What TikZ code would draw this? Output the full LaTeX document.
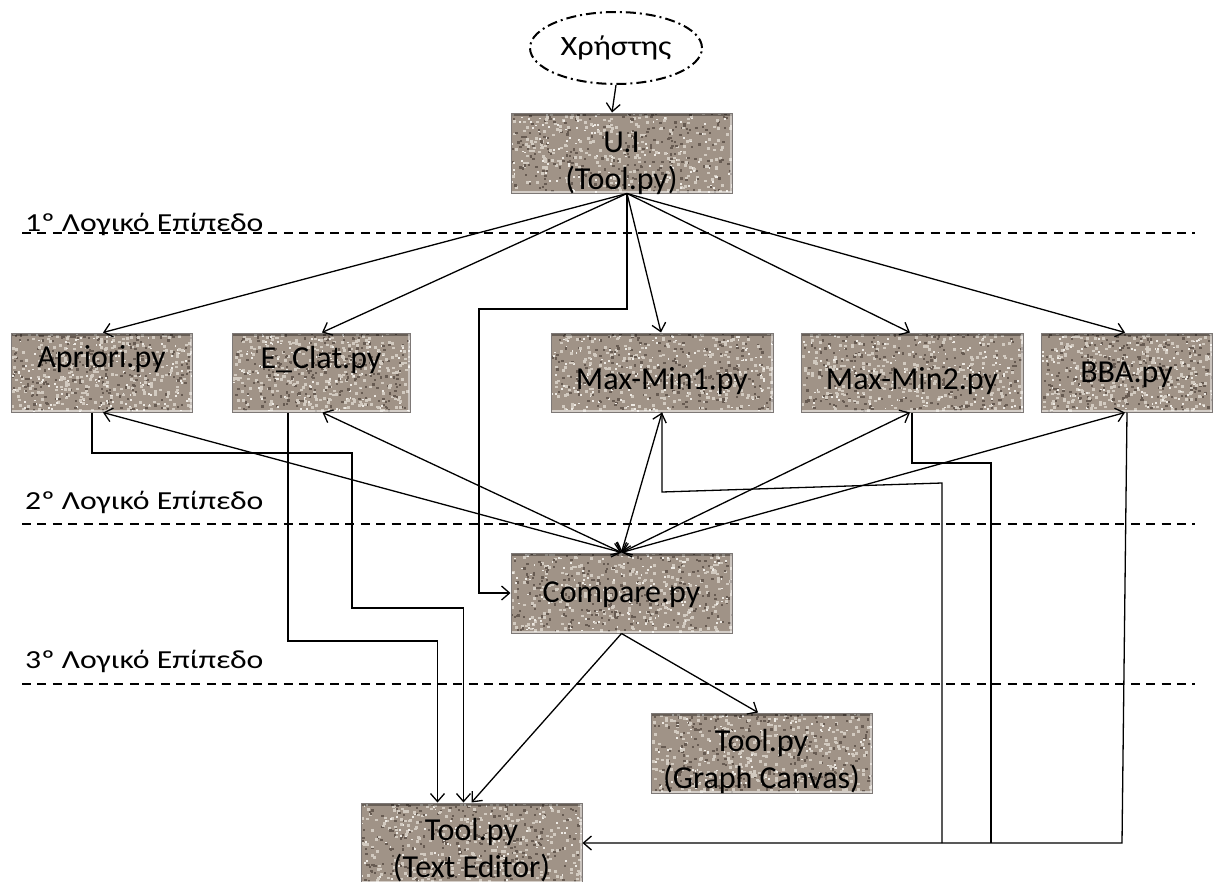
\documentclass[tikz,border=0pt]{standalone}
\usepackage{graphicx}
\usepackage{fontspec}
\setmainfont{Carlito}
\usetikzlibrary{arrows.meta,shapes.geometric,calc}
\definecolor{grBase}{RGB}{160,147,135}
\definecolor{grLight}{RGB}{210,202,192}
\definecolor{grDark}{RGB}{103,91,82}
\definecolor{grWhite}{RGB}{238,234,228}
\definecolor{grEdge}{RGB}{125,120,118}
\pgfmathsetseed{7}
\tikzset{
  granite/.style={fill=grBase, path picture={
    \pgfpointanchor{path picture bounding box}{south west}\pgfgetlastxy{\gxa}{\gya}
    \pgfpointanchor{path picture bounding box}{north east}\pgfgetlastxy{\gxb}{\gyb}
    \foreach \k in {1,...,640}{
      \pgfmathsetmacro\gx{\gxa+rnd*((\gxb)-(\gxa))}
      \pgfmathsetmacro\gy{\gya+rnd*((\gyb)-(\gya))}
      \pgfmathsetmacro\gr{rnd}
      \ifdim\gr pt<0.42pt
        \fill[grLight] (\gx pt,\gy pt) rectangle ++(3.0pt,2.6pt);
      \else\ifdim\gr pt<0.78pt
        \fill[grDark] (\gx pt,\gy pt) rectangle ++(2.4pt,2.2pt);
      \else
        \fill[grWhite] (\gx pt,\gy pt) rectangle ++(1.9pt,1.8pt);
      \fi\fi
    }
    \fill[black,opacity=.35] (path picture bounding box.north west) rectangle ([yshift=-3pt]path picture bounding box.north east);
    \fill[white,opacity=.55] ([yshift=2.5pt]path picture bounding box.south west) rectangle (path picture bounding box.south east);
    \fill[white,opacity=.45] ([xshift=-2.5pt]path picture bounding box.north east) rectangle (path picture bounding box.south east);
  }},
  gbox/.style={rectangle, draw=grEdge, line width=1pt, granite, inner sep=0pt, minimum height=80pt},
  btext/.style={font=\fontsize{32}{37}\selectfont, align=center, text=black},
  conn/.style={line width=1.3pt, black},
  arr/.style={conn, -{Straight Barb[length=8pt,width=14pt]}},
  darr/.style={conn, {Straight Barb[length=8pt,width=14pt]}-{Straight Barb[length=8pt,width=14pt]}},
  levelline/.style={line width=2.6pt, dash pattern=on 9pt off 6.4pt},
  leveltext/.style={font=\fontsize{26}{30}\selectfont, anchor=base west, inner sep=0pt},
}
\begin{document}
\begin{tikzpicture}[x=1pt,y=-1pt]
\useasboundingbox (0,0) rectangle (1213,881);
\fill[white] (0,0) rectangle (1213,881);

% level lines and labels
\draw[levelline] (22,233) -- (1195,233);
\draw[levelline] (22,524) -- (1195,524);
\draw[levelline] (22,684) -- (1195,684);
\node[leveltext] (lv1) at (25,231) {\scalebox{1.22}[1]{1º Λογικό Επίπεδο}};
\node[leveltext] (lv2) at (25,509) {\scalebox{1.22}[1]{2º Λογικό Επίπεδο}};
\node[leveltext] (lv3) at (25,668) {\scalebox{1.22}[1]{3º Λογικό Επίπεδο}};

% user
\node[ellipse, draw, line width=2pt, dash pattern=on 10pt off 4pt on 2pt off 4pt,
      minimum width=172pt, minimum height=72pt, inner sep=0pt,
      font=\fontsize{28}{32}\selectfont] (user) at (616,48) {\scalebox{1.15}[1]{Χρήστης}};

% boxes
\node[gbox, minimum width=221pt, label={[btext,yshift=-10pt]center:{U.I\\(Tool.py)}}] (ui) at (621.5,153) {};
\node[gbox, minimum width=181pt, minimum height=79pt, label={[btext,yshift=13pt]center:Apriori.py}] (apr) at (101.5,372.5) {};
\node[gbox, minimum width=178pt, minimum height=79pt, label={[btext,yshift=13pt]center:E\_Clat.py}] (ecl) at (321,372.5) {};
\node[gbox, minimum width=222pt, minimum height=79pt, label={[btext,yshift=-9pt]center:Max-Min1.py}] (mm1) at (662,372.5) {};
\node[gbox, minimum width=222pt, minimum height=79pt, label={[btext,yshift=-9pt]center:Max-Min2.py}] (mm2) at (912,372.5) {};
\node[gbox, minimum width=171pt, minimum height=79pt, label={[btext,yshift=-2pt]center:BBA.py}] (bba) at (1126.5,372.5) {};
\node[gbox, minimum width=221pt, label={[btext,yshift=-2pt]center:Compare.py}] (cmp) at (621.5,593) {};
\node[gbox, minimum width=221pt, label={[btext,yshift=-8pt]center:{Tool.py\\(Graph Canvas)}}] (gc) at (761.5,753) {};
\node[gbox, minimum width=221pt, label={[btext,yshift=-7pt]center:{Tool.py\\(Text Editor)}}] (te) at (471.5,843) {};

% coordinates
\coordinate (uiB) at ([xshift=5.5pt]ui.south);
\coordinate (teA) at ([xshift=-8pt]te.north);
\coordinate (teB) at ([xshift=-34pt]te.north);
\coordinate (j1) at (942,843);
\coordinate (j2) at (991,843);

% user -> UI
\draw[arr] (user.south) -- ([xshift=-9.5pt]ui.north);

% UI -> algorithms
\draw[arr] (uiB) -- ([xshift=1.5pt]apr.north);
\draw[arr] (uiB) -- ([xshift=1pt]ecl.north);
\draw[arr] (uiB) -- ([xshift=-1pt]mm1.north);
\draw[arr] (uiB) -- ([xshift=-2pt]mm2.north);
\draw[arr] (uiB) -- ([xshift=-1.5pt]bba.north);
\draw[arr] (uiB) |- (479,309) |- (cmp.west);

% Compare <-> algorithms
\draw[darr] (cmp.north) -- ([xshift=1.5pt]apr.south);
\draw[darr] (cmp.north) -- ([xshift=1.5pt]ecl.south);
\draw[darr] (cmp.north) -- (mm1.south);
\draw[darr] (cmp.north) -- ([xshift=-2pt]mm2.south);
\draw[darr] (cmp.north) -- ([xshift=-1.5pt]bba.south);

% algorithms -> text editor
\draw[arr] ([xshift=-9.5pt]apr.south) |- (352,453) |- (463.5,608) -- (teA);
\draw[arr] ([xshift=-33pt]ecl.south) |- (437.5,641) -- (teB);
\draw[conn] (mm1.south) -- (662,492) -- (942,483) -- (j1);
\draw[conn] (mm2.south) |- (991,463) -- (j2);
\draw[arr] ([xshift=0.5pt]bba.south) -- (1122,843) -- (te.east);

% compare -> outputs
\draw[arr] (cmp.south) -- (te.north);
\draw[arr] (cmp.south) -- ([xshift=-3.5pt]gc.north);
\end{tikzpicture}
\end{document}
